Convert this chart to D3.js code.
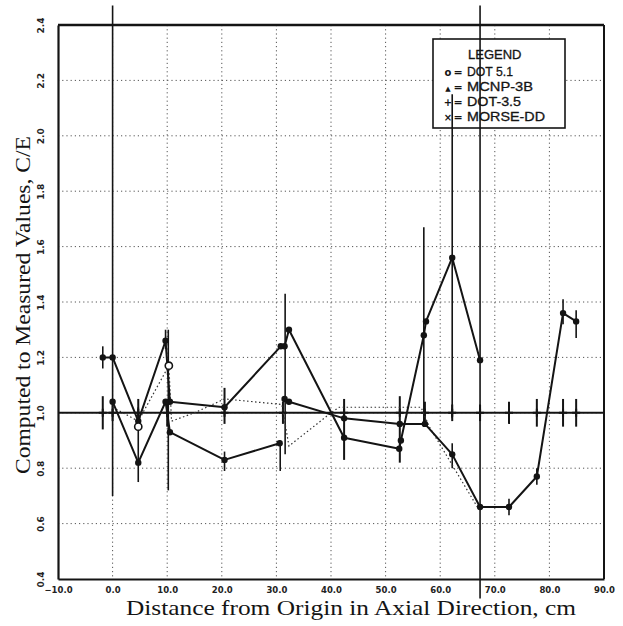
<!DOCTYPE html>
<html><head><meta charset="utf-8">
<script src="https://cdn.jsdelivr.net/npm/d3@7"></script>
<style>body{margin:0;background:#fff}svg{display:block}</style>
</head><body>
<svg id="c" width="623" height="626"></svg>
<script>
// ---- data ----
const xTicks = [-10, 0, 10, 20, 30, 40, 50, 60, 70, 80, 90];
const yTicks = [0.4, 0.6, 0.8, 1.0, 1.2, 1.4, 1.6, 1.8, 2.0, 2.2, 2.4];
const legendLabels = ["DOT 5.1", "MCNP-3B", "DOT-3.5", "MORSE-DD"];
const legendSymbols = ["o", "\u25B2", "+", "\u00D7"];

// DOT 5.1 (solid, upper path)
const dot51X = [-1.8, 0, 4.7, 9.7, 10.5, 20.5, 30.8, 31.5, 32.3, 42.4, 52.5, 52.8, 57.0, 57.4, 62.2, 67.3];
const dot51Y = [1.20, 1.20, 0.97, 1.26, 1.04, 1.02, 1.24, 1.24, 1.30, 0.91, 0.87, 0.90, 1.28, 1.33, 1.56, 1.19];
// MCNP-3B (solid, lower path)
const mcnpX = [0, 4.7, 9.7, 10.5, 20.5, 30.6];
const mcnpY = [1.04, 0.82, 1.04, 0.93, 0.83, 0.89];
// DOT-3.5 (solid, right path)
const dot35X = [31.5, 32.3, 42.4, 52.6, 57.2, 62.2, 67.3, 72.6, 77.7, 82.5, 84.9];
const dot35Y = [1.05, 1.04, 0.98, 0.96, 0.96, 0.85, 0.66, 0.66, 0.77, 1.36, 1.33];
// MORSE-DD (dotted)
const morseX = [0, 4.7, 10.3, 10.8, 15.0, 20.5, 31.0, 32.3, 40.0, 41.5, 56.5, 58.0, 66.8];
const morseY = [1.02, 0.97, 1.17, 0.97, 1.00, 1.05, 1.03, 0.88, 1.00, 1.02, 1.02, 0.95, 0.66];

// measured reference (C/E = 1) with uncertainty
const refX  = [-1.8, 0, 4.7, 10, 20.5, 31.2, 42.4, 52.6, 57.2, 62.2, 67.3, 72.6, 77.7, 82.5, 84.9];
const refLo = [0.94, 0.97, 0.94, 0.95, 0.96, 0.96, 0.83, 0.82, 0.96, 0.97, 0.97, 0.96, 0.95, 0.95, 0.95];
const refHi = [1.06, 1.03, 1.05, 1.05, 1.09, 1.04, 1.05, 1.06, 1.04, 1.03, 1.03, 1.04, 1.05, 1.05, 1.05];

// other error bars
const barX  = [-1.8, 0, 4.7, 9.7, 10.2, 20.5, 30.7, 31.6, 57.0, 62.2, 67.3, 62.2, 82.5, 84.9, 77.7, 72.6];
const barLo = [1.16, 0.70, 0.75, 1.23, 0.72, 0.79, 0.79, 0.85, 0.95, 0.98, 0.33, 0.80, 1.32, 1.27, 0.74, 0.63];
const barHi = [1.24, 2.47, 1.02, 1.30, 1.30, 0.86, 0.90, 1.43, 1.67, 2.15, 2.47, 0.89, 1.41, 1.37, 0.80, 0.69];

// open-circle points
const openX = [10.3, 4.7];
const openY = [1.17, 0.95];

// ---- drawing ----
const svg = d3.select("#c");
const x = d3.scaleLinear().domain([-10, 90]).range([58, 604]);
const y = d3.scaleLinear().domain([0.4, 2.4]).range([579, 25]);
const ink = "#141414";

// grid
svg.append("g").selectAll("line").data(xTicks.slice(1, -1)).join("line")
  .attr("x1", d => x(d)).attr("x2", d => x(d)).attr("y1", y(2.4)).attr("y2", y(0.4))
  .attr("stroke", "#555").attr("stroke-width", 1).attr("stroke-dasharray", "1.2,3");
svg.append("g").selectAll("line").data(yTicks.slice(1, -1)).join("line")
  .attr("y1", d => y(d)).attr("y2", d => y(d)).attr("x1", x(-10)).attr("x2", x(90))
  .attr("stroke", "#555").attr("stroke-width", 1).attr("stroke-dasharray", "1.2,3");

// legend box (behind the data lines)
const lg = svg.append("g");
lg.append("rect").attr("x", 433).attr("y", 39).attr("width", 132).attr("height", 89)
  .attr("fill", "#fff").attr("stroke", ink).attr("stroke-width", 1.6);
lg.append("text").attr("x", 468).attr("y", 59).text("LEGEND")
  .attr("font-family", "Liberation Sans, Arial, sans-serif").attr("font-size", 13).attr("fill", ink)
  .attr("stroke", ink).attr("stroke-width", 0.3);
legendLabels.forEach((t, i) => {
  const by = 76 + i * 15;
  lg.append("text").attr("x", 448).attr("y", by).attr("text-anchor", "middle").text(legendSymbols[i])
    .attr("font-family", "DejaVu Sans, sans-serif").attr("font-size", i === 1 ? 7 : 10).attr("font-weight", "bold").attr("fill", ink);
  lg.append("text").attr("x", 458).attr("y", by).attr("text-anchor", "middle").text("=")
    .attr("font-family", "DejaVu Sans, sans-serif").attr("font-size", 11).attr("font-weight", "bold").attr("fill", ink);
  lg.append("text").attr("x", 467).attr("y", by).text(t)
    .attr("font-family", "Liberation Sans, Arial, sans-serif").attr("font-size", 13).attr("fill", ink)
    .attr("textLength", [46, 66, 54, 78][i]).attr("lengthAdjust", "spacingAndGlyphs")
    .attr("stroke", ink).attr("stroke-width", 0.3);
});

// axes
const xAxis = svg.append("g").attr("transform", `translate(0,${y(0.4)})`)
  .call(d3.axisBottom(x).tickValues(xTicks).tickFormat(d3.format(".1f")).tickSize(0).tickPadding(8));
xAxis.select(".domain").attr("stroke", ink).attr("stroke-width", 2.2);
xAxis.selectAll("text").attr("font-family", "DejaVu Sans, sans-serif").attr("font-size", 8.5)
  .attr("font-weight", "bold").attr("fill", "#222");

const yAxis = svg.append("g").attr("transform", `translate(${x(-10)},0)`)
  .call(d3.axisLeft(y).tickValues(yTicks).tickFormat(d3.format(".1f")).tickSize(0).tickPadding(0));
yAxis.select(".domain").attr("stroke", ink).attr("stroke-width", 2.2);
yAxis.selectAll("text")
  .attr("font-family", "DejaVu Sans, sans-serif").attr("font-size", 9).attr("font-weight", "bold").attr("fill", "#222")
  .attr("text-anchor", "middle").attr("dy", 0)
  .attr("transform", `translate(-14,0) rotate(-90)`).attr("x", 0).attr("y", 0);

// top and right frame
svg.append("line").attr("x1", x(-10)).attr("x2", x(90)).attr("y1", y(2.4)).attr("y2", y(2.4))
  .attr("stroke", ink).attr("stroke-width", 2.5);
svg.append("line").attr("x1", x(90)).attr("x2", x(90)).attr("y1", y(2.4)).attr("y2", y(0.4))
  .attr("stroke", ink).attr("stroke-width", 2);

// reference line at 1.0
svg.append("line").attr("x1", x(-10)).attr("x2", x(90)).attr("y1", y(1.0)).attr("y2", y(1.0))
  .attr("stroke", ink).attr("stroke-width", 2);

// error bars
const zip = (a, b, c) => a.map((v, i) => [v, b[i], c[i]]);
svg.append("g").selectAll("line").data(zip(refX, refLo, refHi)).join("line")
  .attr("x1", d => x(d[0])).attr("x2", d => x(d[0])).attr("y1", d => y(d[1])).attr("y2", d => y(d[2]))
  .attr("stroke", ink).attr("stroke-width", 2);
svg.append("g").selectAll("line").data(zip(barX, barLo, barHi)).join("line")
  .attr("x1", d => x(d[0])).attr("x2", d => x(d[0])).attr("y1", d => y(d[1])).attr("y2", d => y(d[2]))
  .attr("stroke", ink).attr("stroke-width", 1.6);

// + markers on the reference line
svg.append("g").selectAll("path").data(refX).join("path")
  .attr("d", d => `M${x(d) - 4},${y(1)}h8M${x(d)},${y(1) - 4}v8`)
  .attr("stroke", ink).attr("stroke-width", 2);

// series lines
const line = d3.line().x(d => x(d[0])).y(d => y(d[1]));
const pts = (a, b) => a.map((v, i) => [v, b[i]]);
svg.append("path").datum(pts(morseX, morseY)).attr("d", line).attr("fill", "none")
  .attr("stroke", "#333").attr("stroke-width", 1.2).attr("stroke-dasharray", "1.5,2.5");
[[dot51X, dot51Y], [mcnpX, mcnpY], [dot35X, dot35Y]].forEach(([a, b]) => {
  svg.append("path").datum(pts(a, b)).attr("d", line).attr("fill", "none")
    .attr("stroke", ink).attr("stroke-width", 2).attr("stroke-linejoin", "round");
  svg.append("g").selectAll("circle").data(pts(a, b)).join("circle")
    .attr("cx", d => x(d[0])).attr("cy", d => y(d[1])).attr("r", 3.2).attr("fill", ink);
});
svg.append("g").selectAll("circle").data(pts(openX, openY)).join("circle")
  .attr("cx", d => x(d[0])).attr("cy", d => y(d[1])).attr("r", 3.6)
  .attr("fill", "#fff").attr("stroke", ink).attr("stroke-width", 1.6);

// titles
svg.append("text").attr("transform", `translate(30,305) rotate(-90)`).attr("text-anchor", "middle")
  .attr("font-family", "Liberation Serif, Times New Roman, serif").attr("font-size", 21).attr("fill", ink)
  .attr("textLength", 338).attr("lengthAdjust", "spacingAndGlyphs")
  .text("Computed to Measured Values, C/E");
svg.append("text").attr("x", 351).attr("y", 615).attr("text-anchor", "middle")
  .attr("font-family", "Liberation Serif, Times New Roman, serif").attr("font-size", 22).attr("fill", ink)
  .attr("textLength", 450).attr("lengthAdjust", "spacingAndGlyphs")
  .text("Distance from Origin in Axial Direction, cm");
</script>
</body></html>
